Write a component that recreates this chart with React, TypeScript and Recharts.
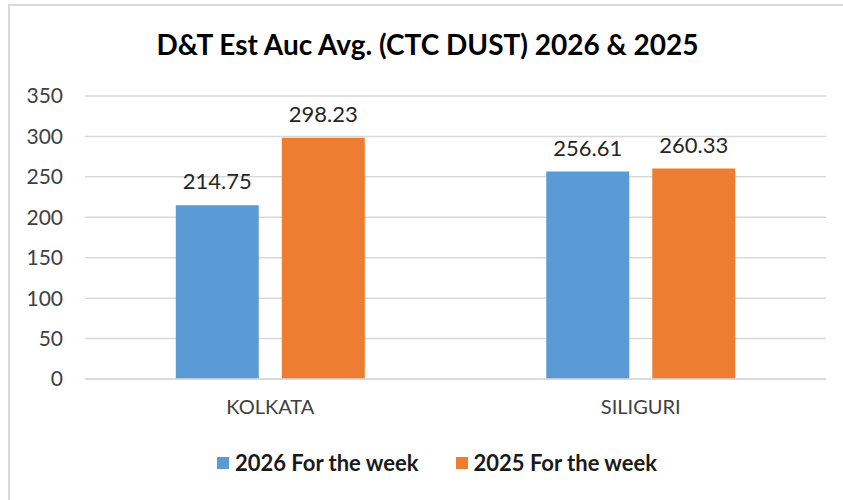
import React from "react";
import { BarChart, Bar, XAxis, YAxis, CartesianGrid, Legend, LabelList } from "recharts";

const categories = ["KOLKATA", "SILIGURI"];
const series2026 = [214.75, 256.61];
const series2025 = [298.23, 260.33];
const yTicks = [0, 50, 100, 150, 200, 250, 300, 350];
const seriesNames = ["2026 For the week", "2025 For the week"];
const title = "D&T Est Auc Avg. (CTC DUST) 2026 & 2025";

const data = categories.map((c, i) => ({ name: c, a: series2026[i], b: series2025[i] }));

const BLUE = "#5B9BD5";
const ORANGE = "#ED7D31";
const FONT = "Lato, 'Open Sans', sans-serif";

const LegendContent = () => (
  <div style={{ height: 56, paddingTop: 33, boxSizing: "border-box", display: "flex", justifyContent: "center", paddingLeft: 23 }}>
    {[BLUE, ORANGE].map((c, i) => (
      <div key={i} style={{ display: "flex", alignItems: "center", marginRight: i === 0 ? 37 : 0, height: 22 }}>
        <div style={{ width: 12, height: 12, background: c, marginRight: 6 }} />
        <span style={{ fontFamily: FONT, fontWeight: 700, fontSize: 22, color: "#1a1a1a", lineHeight: "22px" }}>{seriesNames[i]}</span>
      </div>
    ))}
  </div>
);

export default function App() {
  return (
    <div style={{ position: "absolute", left: 0, top: 0, width: 843, height: 500, background: "#fff", overflow: "hidden" }}>
      <div style={{ position: "absolute", left: 8, top: 4, width: 835, height: 496, borderLeft: "2px solid #d9d9d9", borderTop: "2px solid #d9d9d9" }} />
      <div style={{ position: "absolute", left: 0, top: 27, width: 855, textAlign: "center", fontFamily: FONT, fontWeight: 700, fontSize: 28, color: "#000", lineHeight: "34px" }}>
        {title}
      </div>
      <BarChart
        width={843}
        height={500}
        data={data}
        margin={{ top: 96, right: 17, bottom: 25, left: 25 }}
        barCategoryGap="24.5%"
        barGap={23}
      >
        <CartesianGrid vertical={false} stroke="#d9d9d9" strokeWidth={1.5} />
        <XAxis
          dataKey="name"
          height={40}
          tickLine={false}
          tickSize={0}
          tickMargin={21}
          axisLine={{ stroke: "#d9d9d9", strokeWidth: 1.5 }}
          tick={{ fontFamily: FONT, fontSize: 20, fill: "#404040" }}
        />
        <YAxis
          width={60}
          domain={[0, 350]}
          ticks={yTicks}
          interval={0}
          tickLine={false}
          tickSize={0}
          tickMargin={22}
          axisLine={false}
          tick={{ fontFamily: FONT, fontSize: 21, fill: "#404040" }}
        />
        <Legend verticalAlign="bottom" height={56} content={<LegendContent />} />
        <Bar dataKey="a" name={seriesNames[0]} fill={BLUE} isAnimationActive={false}>
          <LabelList dataKey="a" position="top" offset={16} style={{ fontFamily: FONT, fontSize: 22, fill: "#262626" }} />
        </Bar>
        <Bar dataKey="b" name={seriesNames[1]} fill={ORANGE} isAnimationActive={false}>
          <LabelList dataKey="b" position="top" offset={16} style={{ fontFamily: FONT, fontSize: 22, fill: "#262626" }} />
        </Bar>
      </BarChart>
    </div>
  );
}
